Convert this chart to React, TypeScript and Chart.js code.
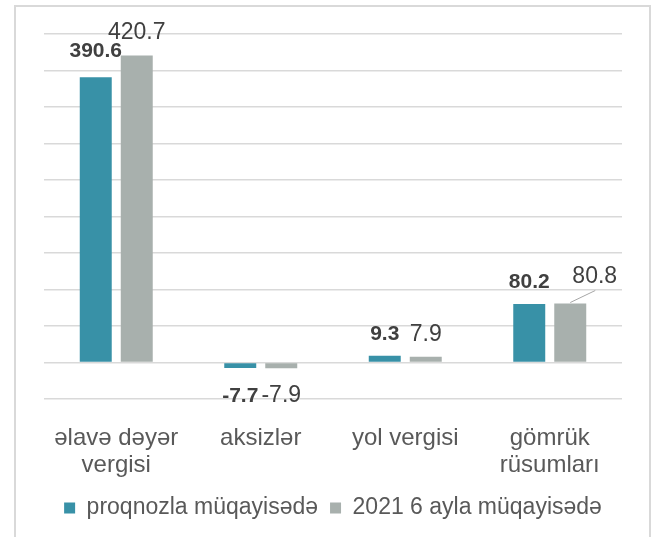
import React, { useEffect, useRef } from "react";
import { Chart, registerables } from "chart.js";

Chart.register(...registerables);

// ---- data ----
const categories: (string | string[])[] = [
  ["əlavə dəyər", "vergisi"],
  "aksizlər",
  "yol vergisi",
  ["gömrük", "rüsumları"],
];
const seriesNames = ["proqnozla müqayisədə", "2021 6 ayla müqayisədə"];
const forecastValues = [390.6, -7.7, 9.3, 80.2];
const prevYearValues = [420.7, -7.9, 7.9, 80.8];
const yMin = -50;
const yMax = 450;
const yStep = 50;

// ---- styles ----
const FONT = "'Liberation Sans', Arial, Helvetica, sans-serif";
const BLUE = "#3891a7";
const GRAY = "#a8b0ad";
const GRID = "#d9d9d9";
const LABEL_DARK = "#404040";
const AXIS_TEXT = "#595959";

// manual label nudges (dataset-index) -> pixel offsets
const labelNudges: Record<string, { dx: number; dy: number; leader?: boolean }> = {
  "0-0": { dx: 0, dy: -4.5 },
  "1-3": { dx: 24.5, dy: -5, leader: true },
};

const labelPlugin = {
  id: "barValueLabels",
  afterDatasetsDraw(chart: any) {
    const ctx = chart.ctx as CanvasRenderingContext2D;
    chart.data.datasets.forEach((ds: any, di: number) => {
      const meta = chart.getDatasetMeta(di);
      meta.data.forEach((el: any, i: number) => {
        const v = ds.data[i] as number;
        const bold = di === 0;
        const size = bold ? 21 : 23;
        ctx.save();
        ctx.font = `${bold ? "bold " : ""}${size}px ${FONT}`;
        ctx.fillStyle = LABEL_DARK;
        ctx.textAlign = "center";
        ctx.textBaseline = "alphabetic";
        const n = labelNudges[`${di}-${i}`] || { dx: 0, dy: 0 };
        const x = el.x + n.dx;
        const y = v >= 0 ? el.y - 16 + n.dy : el.y + 33.5 + n.dy;
        ctx.fillText(v.toFixed(1), x, y);
        if (n.leader) {
          ctx.strokeStyle = "#a6a6a6";
          ctx.lineWidth = 1;
          ctx.beginPath();
          ctx.moveTo(x + 0.5, y + 8);
          ctx.lineTo(el.x, el.y - 1);
          ctx.stroke();
        }
        ctx.restore();
      });
    });
  },
};

export default function App() {
  const canvasRef = useRef<HTMLCanvasElement | null>(null);

  useEffect(() => {
    if (!canvasRef.current) return;
    const chart = new Chart(canvasRef.current, {
      type: "bar",
      data: {
        labels: categories as any,
        datasets: [
          {
            label: seriesNames[0],
            data: forecastValues,
            backgroundColor: BLUE,
            categoryPercentage: 0.5675,
            barPercentage: 0.78,
          },
          {
            label: seriesNames[1],
            data: prevYearValues,
            backgroundColor: GRAY,
            categoryPercentage: 0.5675,
            barPercentage: 0.78,
          },
        ],
      },
      options: {
        animation: false,
        responsive: true,
        maintainAspectRatio: false,
        layout: { padding: { left: 44, right: 34, top: 34, bottom: 7.5 } },
        plugins: {
          legend: {
            position: "bottom",
            labels: {
              font: { size: 23, family: FONT },
              color: AXIS_TEXT,
              boxWidth: 11,
              boxHeight: 11,
              padding: 12,
            },
          },
          tooltip: { enabled: false },
        },
        scales: {
          x: {
            grid: { display: false },
            border: { display: false },
            ticks: {
              font: { size: 24, family: FONT, lineHeight: 1.11 },
              color: AXIS_TEXT,
              padding: 18.4,
              maxRotation: 0,
              autoSkip: false,
            },
            afterFit: (s: any) => {
              s.height = 85.5;
            },
          },
          y: {
            min: yMin,
            max: yMax,
            ticks: { stepSize: yStep, display: false },
            grid: { color: GRID, lineWidth: 1.5, drawTicks: false },
            border: { display: false },
          },
        },
      },
      plugins: [labelPlugin],
    });
    return () => chart.destroy();
  }, []);

  return (
    <div
      style={{
        position: "fixed",
        left: 0,
        top: 0,
        width: 656,
        height: 537,
        overflow: "hidden",
        background: "#ffffff",
      }}
    >
      <div
        style={{
          position: "absolute",
          left: 14,
          top: 5,
          width: 637,
          height: 600,
          border: `2px solid ${GRID}`,
          boxSizing: "border-box",
        }}
      />
      <div style={{ position: "absolute", left: 0, top: 0, width: 656, height: 537 }}>
        <canvas ref={canvasRef} />
      </div>
    </div>
  );
}
